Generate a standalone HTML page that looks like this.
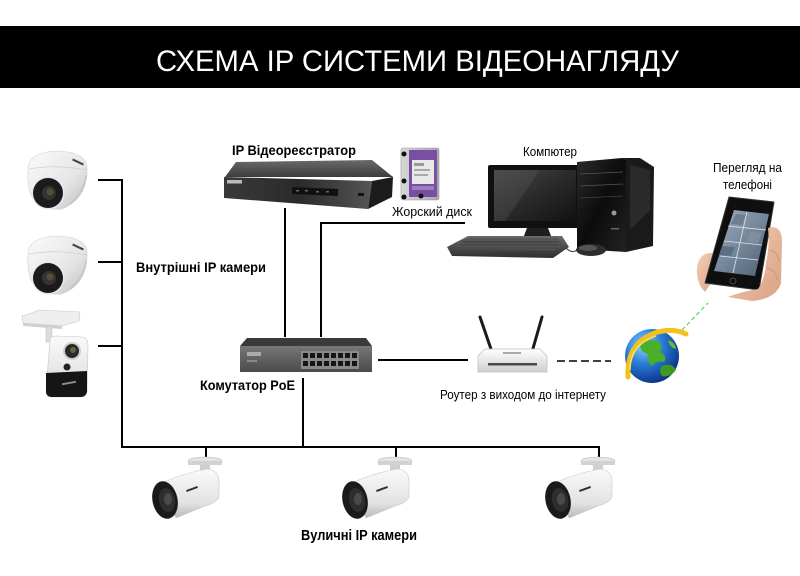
<!DOCTYPE html>
<html>
<head>
<meta charset="utf-8">
<style>
html,body{margin:0;padding:0;background:#fff;}
svg{display:block;}
text{font-family:"Liberation Sans","DejaVu Sans",sans-serif;}
</style>
</head>
<body>
<svg width="800" height="576" viewBox="0 0 800 576" xmlns="http://www.w3.org/2000/svg">
<defs>
  <linearGradient id="domeG" x1="0" y1="0" x2="1" y2="1">
    <stop offset="0" stop-color="#fbfbfb"/>
    <stop offset="0.6" stop-color="#e6e6e6"/>
    <stop offset="1" stop-color="#bdbdbd"/>
  </linearGradient>
  <linearGradient id="bodyG" x1="0" y1="0" x2="0" y2="1">
    <stop offset="0" stop-color="#fafafa"/>
    <stop offset="0.7" stop-color="#e2e2e2"/>
    <stop offset="1" stop-color="#b8b8b8"/>
  </linearGradient>
  <linearGradient id="nvrTop" x1="0" y1="0" x2="0" y2="1">
    <stop offset="0" stop-color="#6a6a6a"/>
    <stop offset="1" stop-color="#3c3c3c"/>
  </linearGradient>
  <linearGradient id="nvrFront" x1="0" y1="0" x2="1" y2="0">
    <stop offset="0" stop-color="#3a3a3a"/>
    <stop offset="0.5" stop-color="#2a2a2a"/>
    <stop offset="1" stop-color="#555"/>
  </linearGradient>
  <linearGradient id="swFront" x1="0" y1="0" x2="0" y2="1">
    <stop offset="0" stop-color="#777"/>
    <stop offset="1" stop-color="#4a4a4a"/>
  </linearGradient>
  <linearGradient id="screenG" x1="0" y1="0" x2="1" y2="1">
    <stop offset="0" stop-color="#4a4a4a"/>
    <stop offset="0.5" stop-color="#2a2a2a"/>
    <stop offset="1" stop-color="#121212"/>
  </linearGradient>
  <linearGradient id="towerG" x1="0" y1="0" x2="1" y2="1">
    <stop offset="0" stop-color="#2a2a2a"/>
    <stop offset="0.5" stop-color="#0c0c0c"/>
    <stop offset="1" stop-color="#222"/>
  </linearGradient>
  <linearGradient id="kbG" x1="0" y1="0" x2="0" y2="1">
    <stop offset="0" stop-color="#6a6a6a"/>
    <stop offset="1" stop-color="#2e2e2e"/>
  </linearGradient>
  <radialGradient id="globeG" cx="0.35" cy="0.3" r="0.75">
    <stop offset="0" stop-color="#8fd3ff"/>
    <stop offset="0.45" stop-color="#2a7fd8"/>
    <stop offset="1" stop-color="#0a2f86"/>
  </radialGradient>
  <linearGradient id="skinG" x1="0" y1="0" x2="1" y2="1">
    <stop offset="0" stop-color="#f3cdb4"/>
    <stop offset="1" stop-color="#d9a184"/>
  </linearGradient>
  <linearGradient id="phoneScr" x1="0" y1="0" x2="1" y2="1">
    <stop offset="0" stop-color="#9fb2c4"/>
    <stop offset="1" stop-color="#4c5f73"/>
  </linearGradient>
  <linearGradient id="hddG" x1="0" y1="0" x2="1" y2="0">
    <stop offset="0" stop-color="#d8d8d8"/>
    <stop offset="1" stop-color="#a8a8a8"/>
  </linearGradient>
  <linearGradient id="routerG" x1="0" y1="0" x2="0" y2="1">
    <stop offset="0" stop-color="#ffffff"/>
    <stop offset="1" stop-color="#cfcfcf"/>
  </linearGradient>

  <g id="dome">
    <path d="M28,170 Q28,152 57,151 Q86,152 87,167 L87,174 Q85,200 62,209 Q40,211 32,197 Q27,186 28,170 Z" fill="url(#domeG)" stroke="#d0d0d0" stroke-width="0.6"/>
    <path d="M29,169 Q57,164 87,170" fill="none" stroke="#cfcfcf" stroke-width="0.8"/>
    <path d="M70,204 Q84,192 86,175" fill="none" stroke="#c4c4c4" stroke-width="1.2"/>
    <circle cx="48" cy="193" r="16.5" fill="#e9e9e9"/>
    <circle cx="48" cy="193" r="15" fill="#1b1b1b"/>
    <circle cx="49" cy="193" r="7" fill="#333"/>
    <circle cx="50" cy="192" r="3.5" fill="#5a4d35"/>
    <rect x="72" y="161" width="12" height="2" fill="#444" transform="rotate(25 78 162)"/>
  </g>

  <g id="bullet">
    <ellipse cx="205" cy="461" rx="17" ry="4" fill="#e4e4e4" stroke="#bdbdbd" stroke-width="0.6"/>
    <rect x="188" y="461" width="34" height="4" fill="#d2d2d2"/>
    <rect x="200" y="465" width="10" height="10" fill="#cfcfcf"/>
    <path d="M203,472 L213,470 L216,484 L206,488 Z" fill="#d6d6d6"/>
    <path d="M160,484 Q180,474 207,469 Q218,470 219,480 L219,497 Q216,503 205,506 L176,518 Z" fill="url(#bodyG)" stroke="#c8c8c8" stroke-width="0.6"/>
    <ellipse cx="165" cy="500" rx="12.5" ry="19" fill="#1a1a1a" transform="rotate(-12 165 500)"/>
    <ellipse cx="167" cy="500" rx="8" ry="12" fill="#2e2e2e" transform="rotate(-12 167 500)"/>
    <ellipse cx="168" cy="499" rx="4" ry="6" fill="#4a4a4a"/>
    <rect x="186" y="488" width="12" height="2" fill="#333" transform="rotate(-20 192 489)"/>
  </g>
</defs>

<!-- Header -->
<rect x="0" y="26" width="800" height="62" fill="#000"/>
<text x="156" y="71" font-size="30" fill="#fff" textLength="523" lengthAdjust="spacingAndGlyphs">СХЕМА IP СИСТЕМИ ВІДЕОНАГЛЯДУ</text>

<!-- Connectors -->
<g stroke="#000" stroke-width="2" fill="none">
  <path d="M98,180 H122"/>
  <path d="M98,262 H122"/>
  <path d="M98,346 H122"/>
  <path d="M122,179 V447 H600"/>
  <path d="M206,447 V458"/>
  <path d="M396,447 V458"/>
  <path d="M599,446 V458"/>
  <path d="M303,378 V447"/>
  <path d="M285,208 V337"/>
  <path d="M321,337 V223 H465"/>
  <path d="M378,360 H468"/>
  <path d="M557,361 H611" stroke-dasharray="8,4" stroke-width="1.6"/>
</g>
<path d="M682,330 L708,303" stroke="#33cc33" stroke-width="1" stroke-dasharray="4,3" fill="none"/>

<!-- Dome cameras -->
<use href="#dome"/>
<use href="#dome" transform="translate(0,85)"/>

<!-- Cube camera -->
<g>
  <polygon points="22,316 40,310 80,312 79,321 62,326 23,323" fill="#eeeeee" stroke="#c8c8c8" stroke-width="0.6"/>
  <polygon points="23,323 62,326 62,329 23,326" fill="#d0d0d0"/>
  <rect x="46" y="326" width="6" height="16" fill="#dcdcdc" stroke="#bcbcbc" stroke-width="0.5"/>
  <path d="M50,340 Q50,336 56,336 L82,337 Q88,338 88,345 L87,392 Q86,397 80,397 L52,397 Q46,397 46,391 Z" fill="url(#bodyG)" stroke="#c6c6c6" stroke-width="0.6"/>
  <path d="M46,373 L87,371 L87,392 Q86,397 80,397 L52,397 Q46,397 46,391 Z" fill="#151515"/>
  <rect x="62" y="382" width="14" height="2" fill="#888" transform="rotate(-10 69 383)"/>
  <circle cx="72" cy="351" r="9" fill="#cfcfcf"/>
  <circle cx="72" cy="351" r="7" fill="#2a2a2a"/>
  <circle cx="73" cy="350" r="3" fill="#6b6048"/>
  <circle cx="67" cy="367" r="3.5" fill="#222"/>
</g>

<!-- NVR -->
<g>
  <polygon points="236,162 372,160 393,177 225,177" fill="url(#nvrTop)"/>
  <polygon points="224,177 372,181 368,209 224,198" fill="url(#nvrFront)"/>
  <polygon points="372,181 393,177 392,197 368,209" fill="#1c1c1c"/>
  <rect x="227" y="180" width="15" height="3.5" fill="#bbb"/>
  <polygon points="292,187 338,189 338,196 292,194" fill="#111"/>
  <rect x="296" y="190" width="3" height="1.5" fill="#666"/>
  <rect x="305" y="190" width="3" height="1.5" fill="#666"/>
  <rect x="316" y="191" width="3" height="1.5" fill="#666"/>
  <rect x="326" y="191" width="3" height="1.5" fill="#666"/>
  <rect x="358" y="193" width="6" height="3" fill="#111"/>
</g>

<!-- HDD -->
<g>
  <rect x="401" y="148" width="38" height="52" rx="2" fill="url(#hddG)" stroke="#9a9a9a" stroke-width="0.6"/>
  <rect x="409" y="150" width="28" height="47" fill="#7a4fa3"/>
  <rect x="412" y="160" width="22" height="24" fill="#e8e8e8"/>
  <rect x="414" y="163" width="10" height="3" fill="#999"/>
  <rect x="414" y="169" width="16" height="2" fill="#aaa"/>
  <rect x="414" y="174" width="14" height="2" fill="#aaa"/>
  <rect x="412" y="186" width="22" height="4" fill="#9d7cc0"/>
  <circle cx="404" cy="154" r="2.5" fill="#111"/>
  <circle cx="404" cy="181" r="2.5" fill="#111"/>
  <circle cx="404" cy="197" r="2.5" fill="#111"/>
  <circle cx="421" cy="196" r="2.5" fill="#111"/>
</g>

<!-- Computer -->
<g>
  <rect x="488" y="165" width="92" height="63" rx="2" fill="#101010"/>
  <rect x="494" y="170" width="82" height="51" fill="url(#screenG)"/>
  <polygon points="494,170 540,170 505,221 494,221" fill="#555" opacity="0.35"/>
  <polygon points="527,228 548,228 553,241 522,241" fill="#1e1e1e"/>
  <ellipse cx="538" cy="241" rx="24" ry="4" fill="#2a2a2a"/>
  <polygon points="577,162 622,158 626,160 626,252 577,249" fill="url(#towerG)"/>
  <polygon points="622,158 640,158 654,167 653,246 626,252 626,160" fill="#1a1a1a"/>
  <polygon points="630,165 650,170 650,210 630,230" fill="#3a3a3a" opacity="0.5"/>
  <line x1="580" y1="174" x2="623" y2="172" stroke="#555" stroke-width="0.7"/>
  <line x1="580" y1="186" x2="623" y2="184" stroke="#555" stroke-width="0.7"/>
  <line x1="580" y1="198" x2="623" y2="196" stroke="#444" stroke-width="0.7"/>
  <circle cx="614" cy="213" r="2.5" fill="#999"/>
  <rect x="611" y="228" width="8" height="1.5" fill="#666"/>
  <polygon points="447,247 468,236 562,236 569,247 553,258 452,256" fill="url(#kbG)"/>
  <polygon points="460,241 470,238 558,238 562,245 555,250 458,249" fill="#555"/>
  <g stroke="#2a2a2a" stroke-width="0.6">
    <line x1="462" y1="242" x2="559" y2="242"/>
    <line x1="460" y1="245" x2="561" y2="245"/>
    <line x1="458" y1="248" x2="558" y2="248"/>
  </g>
  <path d="M566,248 Q572,254 577,250" stroke="#333" stroke-width="1" fill="none"/>
  <ellipse cx="591" cy="250" rx="15" ry="6" fill="#2e2e2e"/>
  <ellipse cx="588" cy="248" rx="9" ry="3" fill="#555"/>
</g>

<!-- Phone with hand -->
<g>
  <path d="M697,268 Q699,252 713,253 L720,262 Q708,270 711,283 L705,292 Q696,283 697,268 Z" fill="url(#skinG)"/>
  <polygon points="729,197 774,202 759,290 705,283" fill="#0f0f0f" stroke="#333" stroke-width="1" stroke-linejoin="round"/>
  <polygon points="734,210 769,214 755,276 714,271" fill="url(#phoneScr)"/>
  <g stroke="#e0e6ec" stroke-width="0.8">
    <line x1="728" y1="226" x2="766" y2="230"/>
    <line x1="724" y1="241" x2="762" y2="245"/>
    <line x1="720" y1="256" x2="758" y2="260"/>
    <line x1="747" y1="212" x2="733" y2="273"/>
  </g>
  <polygon points="736,214 746,215 742,225 731,224" fill="#6e7f8f"/>
  <polygon points="750,232 762,233 758,243 746,242" fill="#7d8f9f"/>
  <polygon points="722,246 735,247 731,256 719,255" fill="#5d6f80"/>
  <circle cx="733" cy="281" r="3" fill="none" stroke="#555" stroke-width="0.8"/>
  <path d="M768,228 Q781,224 782,240 L781,283 Q776,299 752,301 L728,297 Q740,292 758,289 Q765,279 766,262 Q770,245 768,228 Z" fill="url(#skinG)"/>
  <path d="M770,250 Q778,252 779,262" stroke="#c98f73" stroke-width="0.8" fill="none"/>
  <path d="M767,268 Q776,270 777,280" stroke="#c98f73" stroke-width="0.8" fill="none"/>
</g>

<!-- Switch -->
<g>
  <polygon points="247,338 366,338 372,346 240,346" fill="#3a3a3a"/>
  <rect x="240" y="346" width="132" height="26" fill="url(#swFront)"/>
  <rect x="247" y="352" width="14" height="4" fill="#aaa"/>
  <rect x="247" y="360" width="10" height="2" fill="#888"/>
  <rect x="301" y="351" width="58" height="18" fill="#8a8a8a"/>
  <g fill="#151515">
    <rect x="303" y="353" width="5" height="5"/><rect x="310" y="353" width="5" height="5"/>
    <rect x="317" y="353" width="5" height="5"/><rect x="324" y="353" width="5" height="5"/>
    <rect x="331" y="353" width="5" height="5"/><rect x="338" y="353" width="5" height="5"/>
    <rect x="345" y="353" width="5" height="5"/><rect x="352" y="353" width="5" height="5"/>
    <rect x="303" y="361" width="5" height="5"/><rect x="310" y="361" width="5" height="5"/>
    <rect x="317" y="361" width="5" height="5"/><rect x="324" y="361" width="5" height="5"/>
    <rect x="331" y="361" width="5" height="5"/><rect x="338" y="361" width="5" height="5"/>
    <rect x="345" y="361" width="5" height="5"/><rect x="352" y="361" width="5" height="5"/>
  </g>
</g>

<!-- Router -->
<g>
  <line x1="480" y1="317" x2="492" y2="352" stroke="#1a1a1a" stroke-width="3" stroke-linecap="round"/>
  <line x1="542" y1="317" x2="532" y2="352" stroke="#1a1a1a" stroke-width="3" stroke-linecap="round"/>
  <polygon points="478,356 485,349 540,349 547,356 547,372 478,372" fill="url(#routerG)" stroke="#bdbdbd" stroke-width="0.7"/>
  <rect x="503" y="352" width="18" height="2" fill="#aaa"/>
  <rect x="488" y="363" width="49" height="2.5" fill="#4a4a4a"/>
</g>

<!-- Globe -->
<g>
  <circle cx="652" cy="356" r="27" fill="url(#globeG)"/>
  <path d="M640,345 Q648,338 658,341 Q664,346 660,352 Q668,356 664,362 Q656,360 652,366 Q646,360 648,354 Q640,352 640,345 Z" fill="#4caf2a"/>
  <path d="M662,366 Q672,362 676,370 Q670,378 662,376 Q658,371 662,366 Z" fill="#3f9a22"/>
  <path d="M668,340 Q675,342 676,349 Q670,348 668,340 Z" fill="#5cc035"/>
  <path d="M628,377 Q626,342 658,332 Q674,328 686,334" fill="none" stroke="#f2c21c" stroke-width="5" stroke-linecap="round"/>
  <path d="M630,370 Q630,345 656,336" fill="none" stroke="#fde27a" stroke-width="1.3"/>
</g>

<!-- Bullet cameras -->
<use href="#bullet"/>
<use href="#bullet" transform="translate(190,0)"/>
<use href="#bullet" transform="translate(393,0)"/>

<!-- Labels -->
<g fill="#000">
  <text x="232" y="155" font-size="14" font-weight="bold" textLength="124" lengthAdjust="spacingAndGlyphs">IP Відеореєстратор</text>
  <text x="392" y="216" font-size="12.5" textLength="80" lengthAdjust="spacingAndGlyphs">Жорский диск</text>
  <text x="136" y="272" font-size="14" font-weight="bold" textLength="130" lengthAdjust="spacingAndGlyphs">Внутрішні IP камери</text>
  <text x="200" y="390" font-size="14" font-weight="bold" textLength="95" lengthAdjust="spacingAndGlyphs">Комутатор PoE</text>
  <text x="523" y="156" font-size="12.5" textLength="54" lengthAdjust="spacingAndGlyphs">Компютер</text>
  <text x="713" y="172" font-size="12.5" textLength="69" lengthAdjust="spacingAndGlyphs">Перегляд на</text>
  <text x="723" y="189" font-size="12.5" textLength="49" lengthAdjust="spacingAndGlyphs">телефоні</text>
  <text x="440" y="399" font-size="12.5" textLength="166" lengthAdjust="spacingAndGlyphs">Роутер з виходом до інтернету</text>
  <text x="301" y="540" font-size="14.5" font-weight="bold" textLength="116" lengthAdjust="spacingAndGlyphs">Вуличні IP камери</text>
</g>
</svg>
</body>
</html>
